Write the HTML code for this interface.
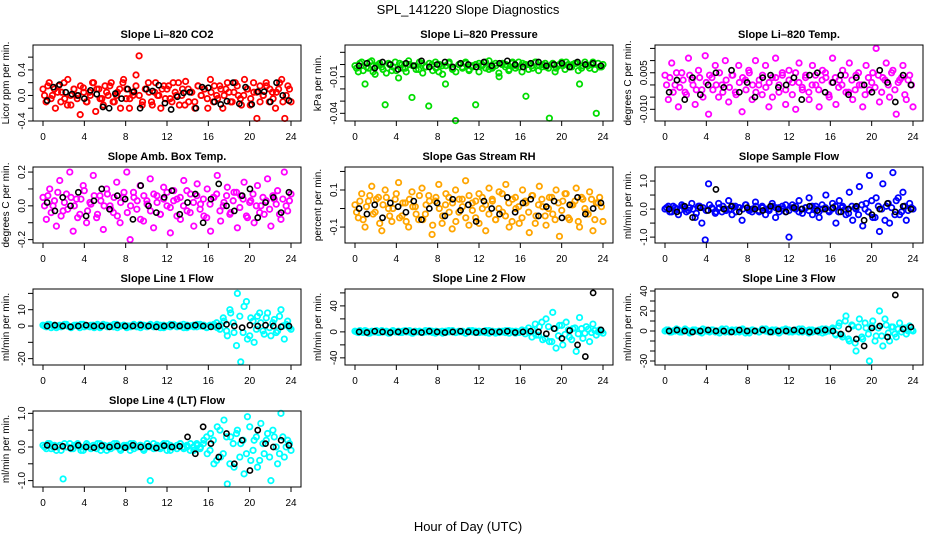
<!DOCTYPE html>
<html><head><meta charset="utf-8"><style>
body{margin:0;background:#fff;}
svg{display:block;font-family:"Liberation Sans",sans-serif;}
</style></head><body>
<svg id="chart" width="936" height="540" viewBox="0 0 936 540">
<text x="468" y="14" text-anchor="middle" font-size="13">SPL_141220  Slope Diagnostics</text>
<text x="468" y="531" text-anchor="middle" font-size="13">Hour of Day (UTC)</text>
</svg>
<script>
const xTicks=[0,4,8,12,16,20,24];
const titles=["Slope Li\u2013820 CO2","Slope Li\u2013820 Pressure","Slope Li\u2013820 Temp.","Slope Amb. Box Temp.","Slope Gas Stream RH","Slope Sample Flow","Slope Line 1 Flow","Slope Line 2 Flow","Slope Line 3 Flow","Slope Line 4 (LT) Flow"];
const yLabels=["Licor ppm per min.","kPa per min.","degrees C per min.","degrees C per min.","percent per min.","ml/min per min.","ml/min per min.","ml/min per min.","ml/min per min.","ml/min per min."];
const colors=["#ff0000","#00dd00","#ff00ff","#ff00ff","#ffa500","#0000ff","#00ffff","#00ffff","#00ffff","#00ffff"];
const yMins=[-0.4,-0.0463,-0.0148,-0.22,-0.186,-1.21,-23.9,-51,-34,-1.19];
const yMaxs=[0.79,0.016,0.0164,0.23,0.224,1.5,22.7,66,42,1.07];
const yTickVals=[[-0.4,-0.2,0,0.2,0.4,0.6],[-0.04,-0.03,-0.02,-0.01,0,0.01],[-0.01,-0.005,0,0.005,0.01,0.015],[-0.2,-0.1,0,0.1,0.2],[-0.1,0,0.1,0.2],[-1,-0.5,0,0.5,1],[-20,-10,0,10,20],[-40,-20,0,20,40,60],[-30,-20,-10,0,10,20,30,40],[-1,-0.5,0,0.5,1]];
const yTickLabels=[["-0.4","","0.0","","0.4",""],["-0.04","","","-0.01","",""],["-0.010","","","0.005","",""],["-0.2","","0.0","","0.2"],["-0.1","","0.1",""],["-1.0","","0.0","","1.0"],["-20","","0","10",""],["-40","","0","","40",""],["-30","","","0","","20","","40"],["-1.0","","0.0","","1.0"]];
const col0=[0.1,-0.1,0.2,0.0,-0.2,0.15,0.05,-0.05,0.25,-0.15,0.1,0.0,-0.3,0.12,-0.1,0.05,0.2,-0.25,0.1,-0.05,0.15,0.0,0.2,-0.1,0.05,-0.2,0.25,0.1,-0.05,0.0,0.32,0.62,-0.15,0.1,0.2,-0.1,0.05,0.0,-0.2,0.15,0.1,-0.05,0.2,0.0,-0.15,0.1,0.22,-0.1,0.05,-0.2,0.15,0.0,0.1,-0.05,0.25,-0.1,0.0,0.15,-0.2,0.1,0.05,-0.1,0.2,0.0,-0.15,0.25,0.1,-0.05,0.05,-0.36,0.15,0.0,0.2,-0.1,0.05,-0.2,0.1,0.25,-0.36,0.15,-0.1];
const colB0=[0.0,0.15,-0.05,0.1,0.05,-0.1,0.2,-0.15,0.0,0.1,-0.05,0.15,0.05,-0.1,0.0,0.2,0.1,-0.05,-0.15,0.05,0.15,-0.1,0.0,0.1,0.2,-0.05,-0.2,0.05,0.15,0.0,-0.1,0.1,0.05,-0.15,0.2,0.0,0.1,-0.05,0.15,-0.1,0.05,0.2,0.0,-0.15,0.1,0.05,-0.1,0.15,0.0,0.1,-0.2,0.05,0.15,-0.05,0.1,0.0,0.2,-0.1,0.05,0.15,-0.05,0.0,0.1,-0.15,0.2,0.05,-0.1,0.0,0.15,0.1,-0.05,0.05,0.2,-0.1,0.0,0.1];
const blk0=[-0.08,0.13,0.17,0.05,0.02,0.0,-0.05,0.08,0.02,-0.18,-0.2,0.03,-0.05,0.1,0.06,-0.2,0.1,0.07,0.16,-0.12,-0.22,-0.02,0.04,0.05,-0.2,0.13,0.12,-0.1,-0.14,-0.09,0.2,-0.13,0.13,-0.14,0.06,0.06,-0.1,0.2,0.0,-0.08];
const col1=[-0.001,-0.006,0.002,-0.016,-0.003,0.003,-0.008,0.0,-0.002,-0.033,0.001,-0.005,0.002,-0.011,0.0,-0.003,0.003,-0.027,-0.001,-0.004,0.001,-0.002,-0.034,0.0,0.002,-0.006,-0.001,-0.016,0.001,-0.003,-0.046,0.0,-0.002,0.002,-0.004,-0.001,-0.033,0.001,0.0,-0.003,0.003,-0.002,-0.001,-0.01,0.001,0.0,-0.004,0.002,-0.001,-0.002,0.001,-0.026,0.0,-0.003,0.002,-0.001,0.0,-0.002,-0.044,0.001,-0.003,0.0,-0.001,0.002,-0.002,0.0,0.001,-0.016,-0.001,0.0,-0.003,0.002,-0.04,-0.002,0.0];
const colB1=[-0.003,0.001,-0.005,-0.002,0.002,-0.006,-0.001,0.001,-0.004,-0.007,0.0,-0.002,-0.005,0.001,-0.003,-0.006,0.0,-0.001,-0.004,0.002,-0.007,-0.002,0.001,-0.005,-0.003,0.0,-0.008,-0.001,0.002,-0.004,-0.006,0.0,-0.003,0.001,-0.005,-0.002,0.0,-0.006,-0.001,0.002,-0.004,-0.003,0.001,-0.007,0.0,-0.002,-0.005,0.001,-0.003,0.002,-0.006,0.0,-0.004,-0.001,0.002,-0.005,-0.002,0.001,-0.003,0.0,-0.006,-0.001,0.002,-0.004,0.0,-0.002,0.001,-0.005,-0.003,0.002,-0.001,0.0,-0.004,0.001,-0.002];
const blk1=[-0.001,0.001,-0.003,0.002,0.0,-0.004,0.001,-0.001,0.003,-0.002,0.0,0.002,-0.002,0.001,0.0,-0.002,0.002,-0.001,0.001,0.003,0.0,-0.002,0.001,0.002,-0.001,0.0,0.001,-0.002,0.002,0.0,0.001,-0.001];
const col2=[0.004,-0.006,0.009,0.0,-0.009,0.005,-0.003,0.011,0.002,-0.008,0.006,-0.002,0.012,-0.012,0.003,0.008,-0.005,0.0,0.01,-0.007,0.004,-0.003,0.008,-0.011,0.002,0.006,-0.006,0.01,0.0,-0.004,0.008,-0.009,0.003,0.011,-0.003,0.005,-0.008,0.006,0.001,-0.01,0.009,-0.002,0.004,-0.006,0.008,0.0,-0.009,0.006,0.003,-0.005,0.011,-0.008,0.002,0.006,-0.003,0.009,-0.006,0.004,0.0,-0.009,0.008,-0.002,0.005,0.015,-0.007,0.003,0.009,-0.005,0.006,-0.012,0.002,0.008,-0.006,0.004,-0.009];
const colB2=[0.0,0.003,-0.003,0.005,-0.001,0.002,-0.004,0.004,0.0,-0.002,0.003,-0.005,0.001,0.004,-0.002,0.0,0.005,-0.003,0.002,-0.001,0.004,-0.004,0.001,0.003,-0.002,0.005,0.0,-0.003,0.002,0.004,-0.001,0.001,-0.005,0.003,0.0,0.004,-0.002,0.002,-0.004,0.005,0.001,-0.001,0.003,-0.003,0.0,0.004,-0.002,0.002,0.005,-0.004,0.001,0.003,-0.001,0.0,0.004,-0.003,0.002,-0.002,0.005,0.0,-0.004,0.003,0.001,-0.001,0.004,-0.003,0.002,0.0,0.005,-0.002,0.001,0.003,-0.004,0.002,0.0];
const blk2=[-0.003,0.002,-0.006,0.003,-0.004,0.0,0.005,-0.001,0.006,-0.003,0.001,-0.005,0.003,0.004,-0.001,0.0,0.003,-0.006,0.004,0.005,-0.003,0.001,0.004,-0.004,0.003,0.0,-0.003,0.006,0.001,-0.007,0.004,0.0];
const col3=[0.05,-0.08,0.1,0.0,-0.12,0.15,-0.03,0.07,0.2,-0.15,0.04,-0.05,0.12,-0.1,0.02,0.18,-0.07,0.06,-0.14,0.1,0.0,-0.04,0.14,-0.1,0.05,0.2,-0.2,0.08,-0.02,0.12,-0.09,0.03,0.16,-0.13,0.06,-0.05,0.11,0.0,-0.16,0.09,0.04,-0.08,0.15,-0.03,0.07,-0.12,0.13,0.01,-0.06,0.1,-0.15,0.05,0.18,-0.09,0.02,0.11,-0.04,0.08,-0.13,0.06,0.14,-0.07,0.03,-0.1,0.12,0.0,-0.05,0.16,-0.12,0.04,0.09,-0.08,0.2,-0.03,0.07];
const colB3=[0.0,0.06,-0.04,0.03,0.08,-0.06,0.02,-0.02,0.05,0.0,-0.07,0.04,0.09,-0.03,0.01,0.06,-0.05,0.03,0.0,0.07,-0.02,0.05,-0.06,0.02,0.08,-0.04,0.0,0.05,0.03,-0.08,0.06,0.01,-0.03,0.07,0.02,-0.05,0.04,0.08,-0.01,0.03,-0.06,0.05,0.0,0.09,-0.04,0.02,0.06,-0.02,0.04,-0.07,0.01,0.05,0.07,-0.03,0.0,0.06,-0.05,0.03,0.08,-0.01,0.04,-0.06,0.02,0.07,0.0,-0.04,0.05,0.03,-0.02,0.06,0.01,-0.05,0.04,0.0,0.03];
const blk3=[0.02,-0.03,0.05,0.0,0.08,-0.06,0.03,0.1,-0.02,0.06,0.04,-0.08,0.12,0.0,-0.04,0.05,0.09,-0.05,0.02,0.07,-0.1,0.04,0.13,0.0,-0.03,0.06,0.1,-0.07,0.02,0.05,-0.04,0.08];
const col4=[0.02,-0.05,0.08,-0.1,0.04,0.12,-0.02,0.06,-0.12,0.1,0.0,-0.07,0.05,0.14,-0.04,0.03,-0.1,0.09,0.01,-0.06,0.11,-0.03,0.07,-0.14,0.04,0.13,-0.08,0.02,0.06,-0.11,0.1,-0.02,0.05,0.15,-0.09,0.03,-0.05,0.08,0.0,-0.12,0.11,0.04,-0.06,0.09,-0.02,0.13,-0.1,0.05,0.0,-0.08,0.1,0.03,-0.13,0.07,-0.04,0.12,0.01,-0.09,0.06,-0.03,0.1,-0.15,0.04,0.08,-0.06,0.02,0.11,-0.1,0.05,-0.02,0.09,-0.12,0.03,0.06,-0.07];
const colB4=[-0.02,0.04,-0.06,0.01,0.07,-0.03,0.05,-0.08,0.02,0.06,-0.04,0.0,0.08,-0.05,0.03,-0.07,0.05,0.01,-0.03,0.07,-0.06,0.02,0.04,-0.09,0.06,0.0,-0.04,0.08,-0.02,0.03,-0.07,0.05,0.01,-0.05,0.07,-0.01,0.04,-0.08,0.06,0.02,-0.03,0.05,-0.06,0.0,0.08,-0.04,0.03,-0.07,0.06,0.01,-0.05,0.04,-0.02,0.07,-0.08,0.02,0.05,-0.04,0.0,0.06,-0.06,0.03,-0.01,0.08,-0.05,0.02,0.04,-0.07,0.06,0.0,-0.03,0.05,-0.06,0.03,0.01];
const blk4=[0.0,-0.03,0.02,-0.05,0.03,0.01,-0.02,0.04,-0.06,0.0,0.03,-0.04,0.05,-0.01,0.02,-0.07,0.04,0.0,-0.03,0.06,-0.02,0.03,0.05,-0.04,0.01,0.04,-0.05,0.02,0.06,-0.03,0.0,0.03];
const col5=[0.0,0.1,-0.1,0.05,-0.2,0.15,0.0,-0.05,0.2,-0.3,0.1,-0.5,-1.1,0.9,0.05,-0.15,0.2,-0.1,0.0,0.3,-0.2,0.1,0.05,-0.4,0.15,0.0,-0.1,0.25,-0.05,0.1,-0.2,0.0,0.2,-0.3,0.05,0.1,-0.1,-1.0,0.15,0.0,0.3,-0.15,0.05,0.4,-0.2,0.1,-0.3,0.0,0.5,-0.1,0.2,-0.5,0.3,0.1,-0.2,0.6,-0.4,0.0,0.8,-0.6,0.2,1.2,-0.3,0.4,-0.8,0.9,0.1,-0.5,1.3,0.3,-0.2,0.6,-0.4,0.2,0.0];
const colB5=[0.05,-0.1,0.1,0.0,-0.05,0.1,-0.1,0.05,0.0,-0.15,0.1,0.05,-0.05,0.15,0.0,-0.1,0.05,0.1,-0.05,0.0,0.1,-0.1,0.05,0.0,0.15,-0.05,0.0,0.1,-0.1,0.05,0.0,-0.05,0.1,0.05,-0.1,0.0,0.15,-0.05,0.05,0.1,-0.1,0.0,0.05,-0.05,0.1,0.0,-0.1,0.15,0.05,-0.05,0.0,0.1,-0.1,0.05,0.0,-0.15,0.1,0.05,-0.2,0.15,0.0,-0.1,0.3,-0.3,0.1,0.0,-0.4,0.2,0.05,-0.2,0.4,-0.1,0.1,-0.05,0.05];
const blk5=[0.0,-0.1,0.1,-0.3,0.05,-0.05,0.7,0.0,0.1,-0.1,0.05,0.0,-0.05,0.1,0.0,-0.1,0.05,0.0,0.1,-0.05,0.0,0.05,-0.1,0.0,0.1,-0.4,-0.2,0.0,0.2,-0.1,0.1,0.0];
const col6=[0.5,-0.5,1,0,-1,0.5,0,1,-0.5,0,0.5,-1,1,0,-0.5,0.5,0,-1,1,0.5,0,-0.5,1,0,0.5,-1,0,0.5,-0.5,1,0,-0.5,0.5,0,1,-1,0.5,0,-0.5,1,0,0.5,-1,0.5,0,-0.5,1,0,0.5,-0.5,0,1,-1,0.5,3,-6,8,-4,20,-22,12,-8,5,-10,6,2,-5,8,-6,4,-3,10,-8,3,-2];
const colB6=[0,1,-1,0.5,0,-0.5,1,0,-1,0.5,0,1,-0.5,0,0.5,-1,1,0,0.5,-0.5,0,1,-1,0,0.5,0,-0.5,1,0,-1,0.5,0,1,-0.5,0,0.5,-1,0,1,0.5,-0.5,0,1,-1,0,0.5,-0.5,1,0,-1,0.5,0,2,-2,5,-3,10,2,-12,6,-4,15,-6,3,-2,8,-3,5,-1,2,-4,6,0,1,-1];
const blk6=[0,0.5,0,-0.5,0,0.5,0,0,-0.5,0.5,0,0,0.5,0,-0.5,0,0.5,0,0,0.5,0,-0.5,0,1,0,-1,0.5,0,0.5,0,-0.5,0];
const col7=[1,-1,0,2,-2,1,0,-1,2,0,-2,1,0,1,-1,2,0,-2,1,0,-1,2,0,1,-2,0,1,-1,2,0,-1,1,0,-2,2,0,1,-1,0,2,-2,1,0,-1,1,2,-2,0,1,-1,0,2,-1,3,-5,8,-12,20,-15,30,-25,10,-20,15,-8,5,-30,22,-10,8,-15,12,-5,3,-2];
const colB7=[0,2,-1,1,-2,0,2,-1,0,1,-2,2,0,-1,1,0,2,-2,0,1,-1,0,2,-1,1,0,-2,1,0,2,-1,0,1,-2,0,2,-1,1,0,-1,2,0,-2,1,0,-1,2,1,-2,0,3,-3,6,-8,12,-5,15,-10,8,-15,5,-6,10,-4,3,-12,6,-3,5,-2,4,-1,2,0,1];
const blk7=[0,-1,1,0,-1,0,1,0,-1,1,0,-1,0,1,0,-1,1,0,0,1,-1,0,1,0,-3,5,-10,2,-20,-38,60,3];
const col8=[0,1,-1,0,1,-1,2,0,-1,1,0,-2,1,0,1,-1,0,2,-1,0,1,-1,0,1,-2,0,1,0,-1,2,0,-1,1,0,-2,1,0,1,-1,0,2,-1,0,1,-1,0,1,-2,2,0,3,-4,8,-6,15,-10,5,-20,12,-8,3,-30,10,-5,20,-15,6,-10,4,-6,8,2,-3,5,0];
const colB8=[1,-1,0,2,-1,0,1,-2,1,0,-1,2,0,-1,1,0,-2,1,2,-1,0,1,-1,2,0,-2,1,0,-1,1,2,0,-1,1,-2,0,2,-1,0,1,-1,2,0,-2,1,0,-1,2,-1,1,2,-3,5,-4,10,-8,6,-12,4,-6,8,-3,5,-10,3,-5,12,-2,4,-3,2,-1,3,0,1];
const blk8=[0,1,0,-1,0,1,0,0,-1,1,0,0,1,-1,0,0,1,0,-1,0,1,0,-3,2,-8,-15,3,5,-6,36,2,4];
const col9=[0.05,-0.05,0.1,0,-0.1,0.05,-0.95,0,0.1,-0.05,0.05,0,-0.1,0.1,0,0.05,-0.05,0.1,0,-0.1,0.05,0,0.1,-0.05,0,0.05,-0.1,0.1,0,0.05,-0.05,0,-1.0,0.1,0,-0.05,0.05,0.1,-0.1,0,0.05,0.1,-0.05,0,0.1,-0.1,0.05,0,0.2,-0.2,0.4,-0.5,0.6,-0.3,0.8,-1.1,0.3,-0.6,0.5,0.1,-0.8,0.9,-0.4,0.2,-0.6,0.7,-0.2,0.4,-1.0,0.3,-0.5,1.0,-0.3,0.2,-0.1];
const colB9=[0,0.1,-0.05,0.05,0,-0.1,0.1,0,-0.05,0.05,0.1,-0.1,0,0.05,-0.05,0,0.1,-0.1,0.05,0,-0.05,0.1,0,-0.1,0.05,0,0.1,-0.05,0,0.05,-0.1,0.1,0,-0.05,0.05,0,0.1,-0.1,0.05,0,-0.05,0.1,0,0.05,-0.1,0,0.1,-0.05,0.1,0.3,-0.1,0.2,-0.4,0.5,-0.2,0.3,-0.5,0.1,0.4,-0.3,0.2,-0.2,0.6,-0.1,0.3,-0.4,0.1,0.2,-0.3,0.5,0,-0.2,0.3,0,0.1];
const blk9=[0.05,0,0.02,-0.03,0.05,0,-0.02,0.04,0,0.03,-0.02,0.05,0,0.02,-0.03,0.04,0,0.02,0.3,-0.2,0.6,0.1,-0.3,0.4,-0.5,0.2,-0.7,0.5,0.1,0.0,0.2,0.05];
const colVals=[col0,col1,col2,col3,col4,col5,col6,col7,col8,col9];
const colValsB=[colB0,colB1,colB2,colB3,colB4,colB5,colB6,colB7,colB8,colB9];
const blkVals=[blk0,blk1,blk2,blk3,blk4,blk5,blk6,blk7,blk8,blk9];

const svg=document.getElementById('chart');
const NS='http://www.w3.org/2000/svg';
const boxL=[33,345,655], boxTop=[45,167,289,411], boxW=268, boxH=76;
function mk(tag,attrs,parent){const e=document.createElementNS(NS,tag);for(const k in attrs)e.setAttribute(k,attrs[k]);(parent||svg).appendChild(e);return e;}
for(let p=0;p<10;p++){
  const L=boxL[p%3], T=boxTop[Math.floor(p/3)], B=T+boxH;
  const g=mk('g',{});
  
  
  const xs=h=>L+10+(h/24)*(boxW-20);
  const ys=v=>B-(v-yMins[p])/(yMaxs[p]-yMins[p])*boxH;
  const t=mk('text',{x:L+boxW/2,y:T-7,'text-anchor':'middle','font-size':11,'font-weight':'bold'},g);t.textContent=titles[p];
  
  
  const yl=mk('text',{x:0,y:0,'text-anchor':'middle','font-size':10,transform:`translate(${L-24},${T+boxH/2}) rotate(-90)`},g);yl.textContent=yLabels[p];
  
  
  xTicks.forEach(h=>{
    mk('line',{x1:xs(h),x2:xs(h),y1:B,y2:B+5,stroke:'#000'},g);
    const tx=mk('text',{x:xs(h),y:B+19,'text-anchor':'middle','font-size':10},g);tx.textContent=h;
    
    
  });
  yTickVals[p].forEach((v,i)=>{
    if(ys(v)<T-1||ys(v)>B+1)return;
    mk('line',{x1:L-5,x2:L,y1:ys(v),y2:ys(v),stroke:'#000'},g);
    if(!yTickLabels[p][i])return;
    const ty=mk('text',{x:0,y:0,'text-anchor':'middle','font-size':10,transform:`translate(${L-8},${ys(v)}) rotate(-90)`},g);ty.textContent=yTickLabels[p][i];
    
    
  });
  const cv=colVals[p], cb=colValsB[p];
  cv.forEach((v,i)=>{
    const c=mk('circle',{cx:xs(24*i/(cv.length-1)),cy:ys(v),r:2.7,fill:'none',stroke:colors[p],'stroke-width':1.8},g);
    
    
  });
  cb.forEach((v,i)=>{
    const c=mk('circle',{cx:xs(0.15+23.7*i/(cb.length-1)),cy:ys(v),r:2.7,fill:'none',stroke:colors[p],'stroke-width':1.8},g);
    
    
  });
  const bv=blkVals[p];
  bv.forEach((v,i)=>{
    const c=mk('circle',{cx:xs(0.4+23.4*i/(bv.length-1)),cy:ys(v),r:2.6,fill:'none',stroke:'#000','stroke-width':1.6},g);
    
    
  });
  const box=mk('rect',{x:L,y:T,width:boxW,height:boxH,fill:'none',stroke:'#000','stroke-width':1},g);
  
  
}
</script>
</body></html>
